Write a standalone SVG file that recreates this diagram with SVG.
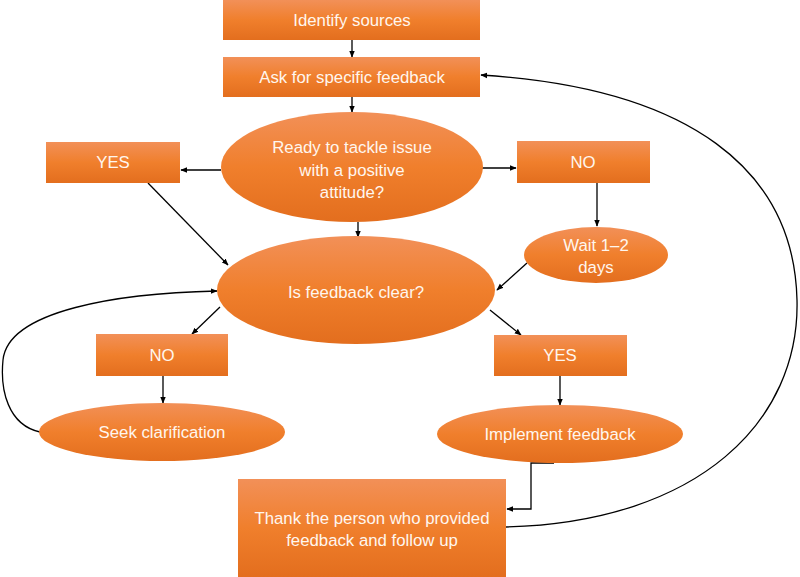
<svg xmlns="http://www.w3.org/2000/svg" width="800" height="577" viewBox="0 0 800 577">
<defs>
<linearGradient id="g" x1="0" y1="0" x2="0" y2="1">
<stop offset="0" stop-color="#F29058"/>
<stop offset="0.5" stop-color="#F07F2C"/>
<stop offset="1" stop-color="#E36E1E"/>
</linearGradient>
<marker id="a" viewBox="0 0 10 10" refX="9" refY="5" markerWidth="7" markerHeight="7" orient="auto" markerUnits="userSpaceOnUse">
<path d="M0,1 L10,5 L0,9 Z" fill="#000"/>
</marker>
</defs>
<style>
.n{fill:url(#g);}
.t{font-family:"Liberation Sans",Arial,sans-serif;font-size:16.8px;fill:#FFF6EE;text-anchor:middle;}
.c{fill:none;stroke:#000;stroke-width:1.3;marker-end:url(#a);}
</style>
<rect width="800" height="577" fill="#fff"/>
<g id="connectors">
<path class="c" d="M352,40 V57"/>
<path class="c" d="M352,97 V112"/>
<path class="c" d="M221,170 H181"/>
<path class="c" d="M482,168 H516"/>
<path class="c" d="M597,183 V226"/>
<path class="c" d="M358,222 V237"/>
<path class="c" d="M148,183 L228,265"/>
<path class="c" d="M527,263 L497,290"/>
<path class="c" d="M220,307 L192,334"/>
<path class="c" d="M163,376 V403"/>
<path class="c" d="M490,310 L521,335"/>
<path class="c" d="M560,376 V405"/>
<path class="c" d="M40,432 C8,425 0,390 3,360 C8,310 120,293 217,291"/>
<path class="c" d="M554,463 H531 V509 H507"/>
<path class="c" d="M506,527 C700,522 800,420 797,300 C794,170 690,88 481,75"/>
</g>
<g id="identify"><rect class="n" x="223" y="0" width="257" height="40"/><text class="t" x="352" y="26">Identify sources</text></g>
<g id="ask"><rect class="n" x="223" y="57" width="257" height="40"/><text class="t" x="352" y="83">Ask for specific feedback</text></g>
<g id="ready"><ellipse class="n" cx="352" cy="167" rx="131" ry="55"/>
<text class="t" x="352" y="153">Ready to tackle issue</text><text class="t" x="352" y="176">with a positive</text><text class="t" x="352" y="198">attitude?</text></g>
<g id="yes1"><rect class="n" x="46" y="142" width="134" height="41"/><text class="t" x="113" y="168">YES</text></g>
<g id="no1"><rect class="n" x="517" y="141" width="133" height="42"/><text class="t" x="583" y="168">NO</text></g>
<g id="wait"><ellipse class="n" cx="596" cy="255" rx="72" ry="28"/><text class="t" x="596" y="251">Wait 1–2</text><text class="t" x="596" y="273">days</text></g>
<g id="clear"><ellipse class="n" cx="356" cy="290" rx="139" ry="54"/><text class="t" x="356" y="298">Is feedback clear?</text></g>
<g id="no2"><rect class="n" x="96" y="334" width="132" height="42"/><text class="t" x="162" y="361">NO</text></g>
<g id="seek"><ellipse class="n" cx="162" cy="432" rx="123" ry="29"/><text class="t" x="162" y="438">Seek clarification</text></g>
<g id="yes2"><rect class="n" x="494" y="335" width="133" height="41"/><text class="t" x="560" y="361">YES</text></g>
<g id="implement"><ellipse class="n" cx="560" cy="434" rx="123" ry="29"/><text class="t" x="560" y="440">Implement feedback</text></g>
<g id="thank"><rect class="n" x="238" y="479" width="268" height="98"/><text class="t" x="372" y="524">Thank the person who provided</text><text class="t" x="372" y="546">feedback and follow up</text></g>
</svg>
